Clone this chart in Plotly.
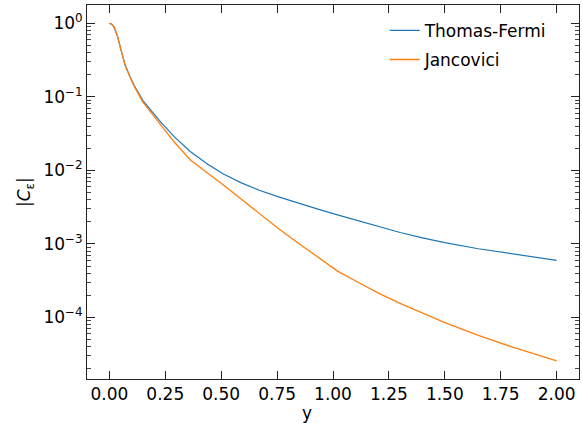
import plotly.graph_objects as go

x_tf = [0.0, 0.01, 0.02, 0.035, 0.05, 0.07, 0.09, 0.11, 0.15, 0.2, 0.23, 0.29, 0.36, 0.44, 0.51,
        0.59, 0.67, 0.76, 0.85, 0.94, 1.02, 1.12, 1.21, 1.3, 1.4, 1.5, 1.65, 1.8, 2.0]
c_tf = [1.0, 0.977, 0.90, 0.69, 0.46, 0.275, 0.195, 0.145, 0.089, 0.0575, 0.0452, 0.0288, 0.0182,
        0.01216, 0.00891, 0.00676, 0.00537, 0.00432, 0.00351, 0.00292, 0.00248, 0.00202, 0.00168,
        0.00143, 0.00121, 0.00104, 0.00086, 0.00073, 0.000596]

x_j = [0.0, 0.01, 0.02, 0.035, 0.05, 0.07, 0.09, 0.11, 0.15, 0.2, 0.23, 0.29, 0.36, 0.40, 0.44,
       0.51, 0.59, 0.67, 0.76, 0.85, 0.94, 1.02, 1.12, 1.21, 1.3, 1.4, 1.5, 1.65, 1.8, 2.0]
c_j = [1.0, 0.977, 0.90, 0.69, 0.46, 0.27, 0.193, 0.141, 0.085, 0.0537, 0.0417, 0.0243, 0.0141,
       0.0112, 0.00912, 0.00631, 0.00407, 0.00257, 0.00158, 0.0010, 0.00063, 0.000427, 0.000292,
       0.000209, 0.000155, 0.000115, 0.0000851, 0.0000569, 0.0000398, 0.0000257]

x_ticks = [0.0, 0.25, 0.5, 0.75, 1.0, 1.25, 1.5, 1.75, 2.0]
y_ticks = [1, 0.1, 0.01, 0.001, 0.0001]
y_ticktext = ["10<sup>0</sup>", "10<sup>\u22121</sup>", "10<sup>\u22122</sup>",
              "10<sup>\u22123</sup>", "10<sup>\u22124</sup>"]

FONT = "DejaVu Sans"
FS = 17
fig = go.Figure()
fig.add_trace(go.Scatter(x=x_tf, y=c_tf, mode="lines", name="Thomas-Fermi", legendgroup="a",
                         line=dict(color="#1f77b4", width=1.2)))
fig.add_trace(go.Scatter(x=x_j, y=c_j, mode="lines", name="Jancovici", legendgroup="b",
                         line=dict(color="#ff7f0e", width=1.3)))

axis_common = dict(showline=True, linecolor="#222", linewidth=1, mirror="ticks",
                   ticks="inside", tickcolor="#222", ticklen=8, tickwidth=1,
                   showgrid=False, zeroline=False, automargin=False,
                   tickfont=dict(family=FONT, size=FS, color="black"))

fig.update_xaxes(range=[-0.1, 2.1], tickvals=x_ticks, tickformat=".2f", **axis_common)
fig.update_yaxes(type="log", range=[-4.837, 0.249], tickvals=y_ticks, ticktext=y_ticktext,
                 minor=dict(ticks="inside", ticklen=4, tickcolor="#444", dtick="D1", showgrid=False),
                 **axis_common)

fig.update_layout(width=582, height=423, margin=dict(l=87, r=3, t=5, b=44),
                  plot_bgcolor="white", paper_bgcolor="white",
                  font=dict(family=FONT, size=FS, color="black"),
                  legend=dict(x=0.605, y=0.979, xanchor="left", yanchor="top",
                              bgcolor="rgba(0,0,0,0)", font=dict(family=FONT, size=FS),
                              traceorder="grouped", tracegroupgap=4),
                  annotations=[
                      dict(text="y", xref="paper", yref="paper", x=0.4466, y=-0.091,
                           showarrow=False, xanchor="center", yanchor="middle",
                           font=dict(family=FONT, size=FS, color="black")),
                      dict(text="|<i>C</i><sub>\u03b5</sub>|", xref="paper", yref="paper",
                           x=-0.126, y=0.5, textangle=-90, showarrow=False,
                           xanchor="center", yanchor="middle",
                           font=dict(family=FONT, size=FS, color="black")),
                  ])

fig.write_html("out.html", config={"displayModeBar": False},
               post_script="document.body.style.margin='0';document.body.style.padding='0';"
                           "document.documentElement.style.overflow='hidden';")
